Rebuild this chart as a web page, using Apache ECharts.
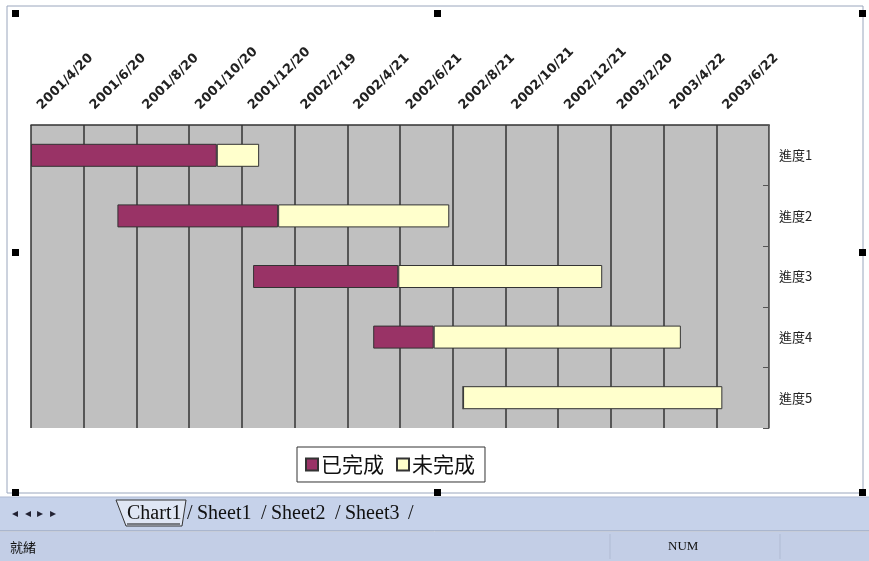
<!DOCTYPE html>
<html><head><meta charset="utf-8">
<script src="https://cdn.jsdelivr.net/npm/echarts@6/dist/echarts.min.js"></script>
<style>html,body{margin:0;padding:0;background:#fff}#c{width:869px;height:561px}</style>
</head><body><div id="c"></div>
<script>
// days are counted from 2001/4/20, axis step 61 days
var categories = ['進度1','進度2','進度3','進度4','進度5'];
var startDays = [0, 100, 257, 396, 500];
var doneDays = [215, 186, 168, 70, 0];
var leftDays = [49, 198, 236, 286, 300];
var tickLabels = ['2001/4/20','2001/6/20','2001/8/20','2001/10/20','2001/12/20','2002/2/19','2002/4/21','2002/6/21','2002/8/21','2002/10/21','2002/12/21','2003/2/20','2003/4/22','2003/6/22'];
var STEP = 61;

var chart = echarts.init(document.getElementById('c'));
var cjk = '"Noto Sans CJK TC","Noto Sans CJK SC",sans-serif';
var serif = '"Liberation Serif",serif';
var handles = [[15,13],[437,13],[862,13],[15,252],[862,252],[15,492],[437,492],[862,492]].map(function(p){
  return {type:'rect', shape:{x:p[0]-3,y:p[1]-3,width:7,height:7}, style:{fill:'#000'}, z:10};
});
function tabText(x, t){
  return {type:'text', style:{x:x,y:514,text:t, font:'20px '+serif, fill:'#111', verticalAlign:'middle'}, z:3};
}
var graphics = [
  {type:'rect', shape:{x:7,y:6,width:856,height:487}, style:{fill:'none', stroke:'#9aa6bd', lineWidth:1}, z:-1},
  {type:'rect', shape:{x:0,y:497,width:869,height:34}, style:{fill:'#c6d2ea'}, z:1},
  {type:'line', shape:{x1:0,y1:497,x2:869,y2:497}, style:{stroke:'#aeb9d2', lineWidth:1}, z:2},
  {type:'line', shape:{x1:0,y1:531,x2:869,y2:531}, style:{stroke:'#8e9ab3', lineWidth:1}, z:2},
  {type:'rect', shape:{x:0,y:532,width:869,height:29}, style:{fill:'#c3cee6'}, z:1},
  {type:'polygon', shape:{points:[[116,500],[186,500],[182,526],[126,526]]}, style:{fill:'#dfe6f4', stroke:'#333', lineWidth:1}, z:2},
  {type:'text', style:{x:12,y:514,text:'◂  ◂  ▸  ▸', font:'12px sans-serif', fill:'#223', verticalAlign:'middle'}, z:3},
  tabText(127,'Chart1'),
  {type:'line', shape:{x1:127,y1:524,x2:180,y2:524}, style:{stroke:'#111', lineWidth:1}, z:3},
  tabText(187,'/'), tabText(197,'Sheet1'), tabText(261,'/'), tabText(271,'Sheet2'),
  tabText(335,'/'), tabText(345,'Sheet3'), tabText(408,'/'),
  {type:'text', style:{x:10,y:547,text:'就緒', font:'13px '+cjk, fill:'#111', verticalAlign:'middle'}, z:3},
  {type:'text', style:{x:668,y:547,text:'NUM', font:'13px '+serif, fill:'#111', verticalAlign:'middle'}, z:3},
  {type:'line', shape:{x1:610,y1:534,x2:610,y2:559}, style:{stroke:'#b0bbd3'}, z:3},
  {type:'line', shape:{x1:780,y1:534,x2:780,y2:559}, style:{stroke:'#b0bbd3'}, z:3}
].concat(handles);

chart.setOption({
  animation:false,
  backgroundColor:'#fff',
  graphic: graphics,
  grid:{left:31, right:100, top:125, bottom:133, show:true, backgroundColor:'#c0c0c0', borderWidth:0,
    containLabel:false, outerBoundsMode:'none'},
  legend:{
    data:['已完成','未完成'], left:297, top:447, orient:'horizontal',
    itemWidth:12, itemHeight:12, itemGap:12, icon:'rect',
    borderColor:'#333', borderWidth:1, padding:[7,10,7,8],
    textStyle:{fontSize:21, fontFamily:cjk, color:'#111', padding:[0,0,0,-2]}
  },
  xAxis:{
    type:'value', position:'top', min:0, max:STEP*14, interval:STEP,
    axisLine:{show:true, lineStyle:{color:'#333', width:1.5}},
    axisTick:{show:false},
    splitLine:{show:true, lineStyle:{color:'#333', width:1.5}},
    axisLabel:{rotate:-45, margin:9, align:'left', verticalAlign:'middle', padding:[0,0,0,12],
      fontSize:13, fontWeight:'bold', color:'#222', fontFamily:'"DejaVu Sans",sans-serif',
      showMaxLabel:false,
      formatter:function(v){ var i=Math.round(v/STEP); return tickLabels[i]||''; }}
  },
  yAxis:{
    type:'category', data:categories, inverse:true, position:'right',
    axisLine:{show:true, onZero:false, lineStyle:{color:'#777', width:1}},
    axisTick:{show:true, inside:true, length:6, lineStyle:{color:'#555'}},
    axisLabel:{fontSize:13, color:'#222', fontFamily:cjk, margin:10}
  },
  series:[
    {name:'start', type:'bar', stack:'a', data:startDays, barWidth:23, silent:true,
      itemStyle:{color:'rgba(0,0,0,0)'}},
    {name:'已完成', type:'bar', stack:'a', data:doneDays, barWidth:23,
      itemStyle:{color:'#993366', borderColor:'#333', borderWidth:1}},
    {name:'未完成', type:'bar', stack:'a', data:leftDays, barWidth:23,
      itemStyle:{color:'#ffffcc', borderColor:'#333', borderWidth:1}}
  ]
});
</script></body></html>
